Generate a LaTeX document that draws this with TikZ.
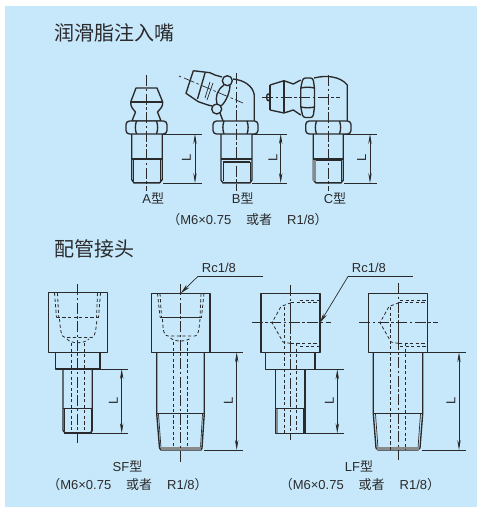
\documentclass[tikz,border=0pt]{standalone}
\usepackage{fontspec}
\setmainfont{Liberation Sans}
\newfontfamily\cjk{Noto Sans CJK SC}
\usetikzlibrary{arrows.meta}
\definecolor{bgblue}{HTML}{C7E8FA}
\definecolor{ink}{HTML}{2A2A2C}
\tikzset{
  outline/.style={draw=ink,line width=1.35pt,line join=round},
  thin line/.style={draw=ink,line width=.7pt},
  centre/.style={draw=ink,line width=.7pt,dash pattern=on 11pt off 2.5pt on 2.5pt off 2.5pt},
  hidden/.style={draw=ink,line width=.8pt,dash pattern=on 3.2pt off 2.4pt},
  dimline/.style={draw=ink,line width=.7pt,{Stealth[length=10pt,width=3.4pt]}-{Stealth[length=10pt,width=3.4pt]}},
  leader/.style={draw=ink,line width=.7pt,-{Stealth[length=10pt,width=4pt]}},
  title/.style={font=\fontsize{20}{20}\selectfont\cjk,text=ink,inner sep=0pt},
  label/.style={font=\fontsize{13}{14}\selectfont,text=ink,inner sep=0pt},
  lmark/.style={font=\fontsize{13}{13}\selectfont,text=ink,inner sep=0pt,rotate=90},
  shade band/.style={fill=ink!55,draw=none},
}
\newcommand{\cn}[1]{{\cjk #1}}
\newcommand{\dimL}[8]{%
  \draw[thin line] (#4,#2) -- (#6,#2);
  \draw[thin line] (#5,#3) -- (#6,#3);
  \coordinate (#8a) at (#1,#2);
  \coordinate (#8b) at (#1,#3);
  \draw[dimline] (#8a) -- (#8b);
  \node[lmark] (#8l) at (#7,{(#2+#3)/2-.5}) {L};
}
\newcommand{\hexnut}[4]{%
  \draw[outline,fill=bgblue,rounded corners=3.5pt] (#1,121) rectangle (#2,134);
  \draw[outline] (#3,121) .. controls (#3-1.5,125) and (#3-1.5,130) .. (#3,134);
  \draw[outline] (#4,121) .. controls (#4+1.5,125) and (#4+1.5,130) .. (#4,134);
}
\newcommand{\spec}{\cn{（}M6×0.75\hspace{1.15em}\cn{或者}\hspace{1.15em}R1/8\cn{）}}
\begin{document}
\begin{tikzpicture}[x=1pt,y=-1pt]
\useasboundingbox (0,0) rectangle (477,507);
\fill[bgblue] (5,6) rectangle (477,507);

\node[title,anchor=west] (t1) at (54.5,33) {润滑脂注入嘴};
\node[title,anchor=west] (t2) at (54.5,249) {配管接头};

%%% Type A
\draw[outline] (136,88) -- (157,88) -- (162.7,102) .. controls (163,107) and (160,109) .. (157.5,112)
  -- (161,121) -- (132,121) -- (135.5,112) .. controls (133,109) and (130.5,107) .. (130.7,102) -- cycle;
\draw[outline] (131,102) -- (162.5,102);
\hexnut{126}{167}{136.5}{156.5}
\draw[outline] (131.7,134) -- (131.7,179.5) -- (134,183) -- (159.5,183) -- (162.3,179.5) -- (162.3,134);
\draw[outline] (131.7,159) -- (162.3,159);
\draw[thin line] (133.5,159) -- (133.5,181);
\draw[thin line] (160.5,159) -- (160.5,181);
\draw[outline,line width=1.7pt] (133,182.6) -- (161,182.6);
\draw[centre] (146.7,75) -- (146.7,191);
\dimL{195}{134}{183}{163}{163}{202}{186.5}{dA}
\node[label] (lA) at (153.3,198) {A\cn{型}};

%%% Type B
\draw[outline] (254.3,121) -- (254.3,95) .. controls (253,86) and (244,80) .. (233,79);
\draw[outline] (193.3,70.7) -- (210,72.7) -- (215,75) -- (222,77);
\draw[outline] (193.3,70.7) -- (186,93.3) -- (198.3,101.7) -- (208,105) -- (212,106);
\draw[outline] (205,73) -- (197.5,99);
\draw[thin line] (213,83) -- (207,100);
\draw[thin line] (210,82) -- (205,98);
\draw[outline,fill=bgblue] (227.3,80.7) circle (5);
\draw[outline,fill=bgblue] (216.7,109) circle (5);
\draw[outline] (224,85) .. controls (217,90) and (215,97) .. (217,104);
\draw[outline] (230,85) .. controls (230,92) and (226,102) .. (221,106);
\draw[outline] (220,113) -- (223,121);
\draw[thin line] (179,76) -- (181,77);
\draw[centre] (184,78) -- (243,103);
\hexnut{213}{258}{224}{247}
\draw[outline] (221,134) -- (221,180) -- (223,183) -- (250,183) -- (252,180) -- (252,134);
\draw[outline] (221,159) -- (252,159);
\draw[outline] (223,162) -- (250,162);
\draw[thin line] (223,162) -- (223,181);
\draw[thin line] (250,162) -- (250,181);
\draw[outline,line width=1.7pt] (222,182.6) -- (251,182.6);
\draw[centre] (236,73) -- (236,191);
\dimL{280.7}{134}{183}{252}{252}{287}{273}{dB}
\node[label] (lB) at (242.7,198) {B\cn{型}};

%%% Type C
\draw[outline] (314,78) .. controls (326,75) and (340,76) .. (347.3,85) -- (347.3,121);
\draw[outline] (270,85) -- (284,80.7) -- (293.3,84) -- (300.7,80);
\draw[outline] (270,110) -- (284,113) -- (293.3,110) -- (300.7,115);
\draw[outline] (270,85) -- (270,110);
\draw[outline] (284,80.7) -- (284,113);
\draw[outline,rounded corners=2.5pt] (303,78) -- (313,78) -- (314.5,88) -- (314.5,107) -- (313,117.5) -- (303,117.5) -- (300.7,107) -- (300.7,88) -- cycle;
\draw[outline] (301,88) .. controls (305,87) and (310,87) .. (314.5,88);
\draw[outline] (301,107) .. controls (305,108) and (310,108) .. (314.5,107);
\draw[outline] (268.3,97.3) ellipse (1.7 and 3.5);
\draw[centre] (262,97.3) -- (340,97.3);
\hexnut{305.7}{351}{316.5}{339.5}
\draw[outline] (313.3,134) -- (313.3,180) -- (316,183) -- (341,183) -- (343.3,180) -- (343.3,134);
\draw[outline] (313.3,159) -- (343.3,159);
\draw[outline] (315,160.5) -- (342,160.5);
\fill[shade band] (313.3,160) rectangle (316,181);
\draw[thin line] (341.5,160) -- (341.5,181);
\draw[outline,line width=1.7pt] (315,182.6) -- (342,182.6);
\draw[centre] (328.3,75) -- (328.3,191);
\dimL{370}{134}{183}{344}{344}{377}{361.7}{dC}
\node[label] (lC) at (335,198) {C\cn{型}};

\node[label] (n1) at (247.5,220) {\spec};

%%% SF short
\draw[outline] (48.3,292.7) rectangle (107.3,352.3);
\draw[outline] (55.7,352.3) -- (55.7,369) -- (100,369) -- (100,352.3);
\draw[outline] (63,369) -- (63,430.5) -- (65.5,433.3) -- (90,433.3) -- (92.3,430.5) -- (92.3,369);
\draw[outline,line width=1.6pt] (63,408.5) -- (92.3,408.5);
\draw[thin line] (64.5,409) -- (64.5,431);
\draw[thin line] (91,409) -- (91,431);
\draw[outline,line width=1.8pt] (64,433) -- (91.5,433);
\draw[hidden] (56.7,317.7) -- (99,317.7);
\draw[hidden] (54.5,293) -- (56.5,317.7);
\draw[hidden] (57.5,293) -- (58.7,317.7);
\draw[hidden] (100.5,293) -- (98.5,317.7);
\draw[hidden] (97.5,293) -- (96.5,317.7);
\draw[hidden] (59.5,319) .. controls (60.5,330) and (61,337) .. (65,337.5) -- (92,337.5) .. controls (95,337) and (96,330) .. (97,319);
\draw[hidden] (67,339) .. controls (71,344) and (84,344) .. (89,339);
\draw[hidden] (71.7,343) -- (71.7,433);
\draw[hidden] (84,343) -- (84,433);
\draw[centre] (77.7,284) -- (77.7,443);
\dimL{121.7}{369}{433.3}{100}{92}{128}{113.3}{dSa}

%%% SF long
\draw[outline] (151.7,293.3) rectangle (210,352.3);
\draw[outline] (156.7,352.3) -- (156.7,413.5) -- (159.5,448) -- (161,450) -- (201,450) -- (202,448) -- (204.3,413.5) -- (204.3,352.3);
\draw[outline] (156.7,413.5) -- (204.3,413.5);
\draw[thin line] (158.5,414) -- (161,448);
\draw[thin line] (202.5,414) -- (200.5,448);
\fill[shade band] (160.5,447) rectangle (201,450);
\draw[thin line] (160,317.3) -- (201.7,317.3);
\draw[hidden] (157.5,293.5) -- (160,317);
\draw[hidden] (160,293.5) -- (161.5,317);
\draw[hidden] (204,293.5) -- (201.5,317);
\draw[hidden] (201,293.5) -- (200,317);
\draw[hidden] (162.5,319) .. controls (163,331) and (164,336) .. (168,336) -- (195,336) .. controls (198,336) and (199,331) .. (200,319);
\draw[hidden] (170.5,338) .. controls (174,342) and (187,342) .. (190.5,338);
\draw[hidden] (173.3,342) -- (173.3,448);
\draw[hidden] (187.7,342) -- (187.7,448);
\draw[centre] (180.7,284) -- (180.7,461.7);
\dimL{236.7}{352.3}{450}{210}{204}{243}{228.3}{dSb}
\coordinate (rcA) at (198.3,276);
\coordinate (rcAend) at (263.3,276);
\coordinate (rcAtip) at (180.7,293.3);
\draw[thin line] (rcAend) -- (rcA);
\draw[leader] (rcA) -- (rcAtip);
\node[label,anchor=west] (rc1) at (201.7,268) {Rc1/8};

\node[label] (lSF) at (127.5,466) {SF\cn{型}};
\node[label] (n2) at (127.5,485) {\spec};

%%% LF short
\draw[outline] (261,293.3) rectangle (320,352.3);
\draw[outline] (265.7,352.3) -- (265.7,369.3) -- (315,369.3) -- (315,352.3);
\draw[outline] (275.7,369.3) -- (275.7,433.3) -- (305,433.3) -- (305,369.3);
\draw[outline] (275.7,408.3) -- (305,408.3);
\fill[shade band] (275.7,408.5) rectangle (277.5,433);
\draw[thin line] (303.5,408.5) -- (303.5,433);
\draw[hidden] (300,300) -- (319.5,300);
\draw[hidden] (291,302.7) -- (319.5,302.7);
\draw[hidden] (300,346) -- (319.5,346);
\draw[hidden] (291,343.5) -- (319.5,343.5);
\draw[hidden] (291,302.7) -- (281,306.5) -- (272,322.7) -- (283,342) -- (291,343.5);
\draw[hidden] (290.7,302.7) -- (290.7,343);
\draw[hidden] (284,307) -- (284,433);
\draw[hidden] (296.3,343) -- (296.3,433);
\draw[centre] (290.3,285) -- (290.3,440);
\draw[centre] (251.7,322.7) -- (330.7,322.7);
\dimL{337.3}{369.3}{433.3}{315}{305}{344}{329.3}{dLa}
\coordinate (rcB) at (348.3,276);
\coordinate (rcBend) at (412.7,276);
\coordinate (rcBtip) at (320,322.7);
\draw[thin line] (rcBend) -- (rcB);
\draw[leader] (rcB) -- (rcBtip);
\node[label,anchor=west] (rc2) at (351.7,268) {Rc1/8};

%%% LF long
\draw[outline] (368.7,293.3) rectangle (427.3,352.3);
\draw[outline] (373.3,352.3) -- (373.3,413.8) -- (376,448) -- (378,450) -- (418,450) -- (420,448) -- (422.7,413.8) -- (422.7,352.3);
\draw[outline] (373.3,413.8) -- (422.7,413.8);
\draw[thin line] (375.5,414) -- (378,448);
\draw[thin line] (420.5,414) -- (418,448);
\fill[shade band] (377,447) rectangle (419,450);
\draw[hidden] (400,300) -- (427,300);
\draw[hidden] (399,302.7) -- (427,302.7);
\draw[hidden] (400,346) -- (427,346);
\draw[hidden] (399,343.5) -- (427,343.5);
\draw[hidden] (399,302.7) -- (389,306.5) -- (380,322.7) -- (391,342) -- (399,343.5);
\draw[hidden] (398.7,302.7) -- (398.7,343);
\draw[hidden] (390.7,307) -- (390.7,450);
\draw[hidden] (405.3,343) -- (405.3,450);
\draw[centre] (398,283) -- (398,460);
\draw[centre] (359.3,322.7) -- (438.3,322.7);
\dimL{459}{352.3}{450}{427}{422}{466}{451}{dLb}

\node[label] (lLF) at (359,466) {LF\cn{型}};
\node[label] (n3) at (360,485) {\spec};
\end{tikzpicture}
\end{document}
